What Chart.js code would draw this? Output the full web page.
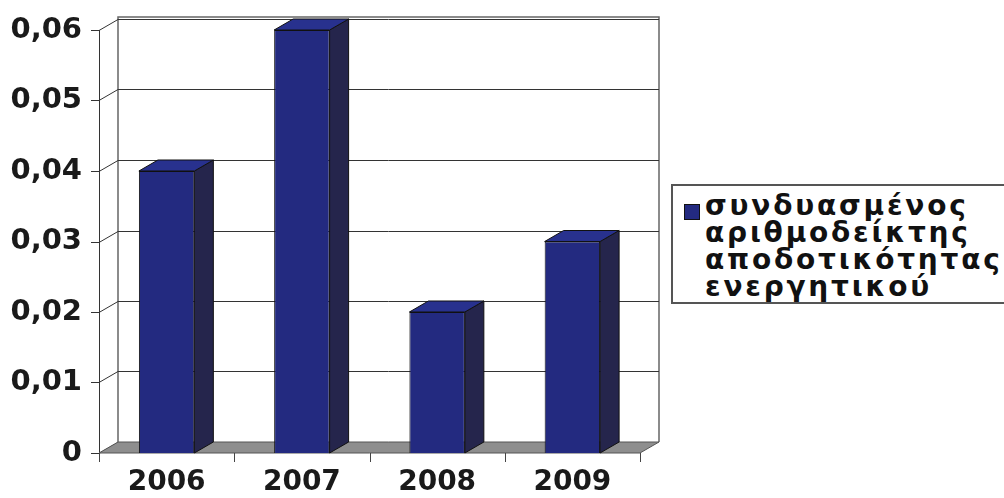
<!DOCTYPE html>
<html>
<head>
<meta charset="utf-8">
<script src="https://cdn.jsdelivr.net/npm/chart.js@4.4.1/dist/chart.umd.min.js"></script>
<style>
  html, body { margin: 0; padding: 0; background: #fff; }
  #wrap { position: relative; width: 1004px; height: 498px; overflow: hidden; }
  #legend {
    position: absolute; left: 671px; top: 184px; width: 360px; height: 120px;
    border: 2px solid #555; box-sizing: border-box; background: #fff;
  }
  #legend .sw {
    position: absolute; left: 11px; top: 18px; width: 14px; height: 14px;
    background: #232a80; border: 1px solid #111;
  }
  #legend .txt {
    position: absolute; left: 32px; top: 6px; margin: 0;
    font: bold 28px "DejaVu Sans", sans-serif; line-height: 27px;
    letter-spacing: 2.8px; color: #111; white-space: pre;
  }
</style>
</head>
<body>
<div id="wrap">
  <canvas id="myChart" width="1004" height="498"></canvas>
  <div id="legend"><div class="sw"></div><div class="txt" id="legendText"></div></div>
</div>
<script>
const years = ['2006', '2007', '2008', '2009'];
const values = [0.04, 0.06, 0.02, 0.03];
const seriesName = ['συνδυασμένος', 'αριθμοδείκτης', 'αποδοτικότητας', 'ενεργητικού'];
const yTicks = [0, 0.01, 0.02, 0.03, 0.04, 0.05, 0.06];

document.getElementById('legendText').textContent = seriesName.join('\n');

// depth of the 3d effect
const DX = 19, DY = -11;

const box3d = {
    id: 'box3d',
    beforeDatasetsDraw(chart) {
        const ctx = chart.ctx;
        const a = chart.chartArea;
        const y = chart.scales.y;
        ctx.save();
        // back wall outline
        ctx.strokeStyle = '#666';
        ctx.lineWidth = 1.5;
        ctx.beginPath();
        ctx.moveTo(a.left + DX, a.bottom + DY);
        ctx.lineTo(a.left + DX, a.top + DY - 2);
        ctx.lineTo(a.right + DX, a.top + DY - 2);
        ctx.lineTo(a.right + DX, a.bottom + DY);
        ctx.stroke();
        // grid lines on wall + side wall diagonals + ticks
        ctx.strokeStyle = '#333';
        ctx.lineWidth = 1;
        yTicks.forEach(function (v) {
            const py = Math.round(y.getPixelForValue(v)) + 0.5;
            ctx.beginPath();
            if (v > 0) {
                ctx.moveTo(a.left + DX, py + DY);
                ctx.lineTo(a.right + DX, py + DY);
            }
            ctx.moveTo(a.left - 8, py);
            ctx.lineTo(a.left, py);
            ctx.lineTo(a.left + DX, py + DY);
            ctx.stroke();
        });
        // front vertical axis
        ctx.beginPath();
        ctx.moveTo(a.left + 0.5, a.top);
        ctx.lineTo(a.left + 0.5, a.bottom);
        ctx.stroke();
        // floor
        ctx.fillStyle = '#8e8e8e';
        ctx.strokeStyle = '#555';
        ctx.beginPath();
        ctx.moveTo(a.left, a.bottom);
        ctx.lineTo(a.right, a.bottom);
        ctx.lineTo(a.right + DX, a.bottom + DY);
        ctx.lineTo(a.left + DX, a.bottom + DY);
        ctx.closePath();
        ctx.fill();
        ctx.stroke();
        // category ticks
        ctx.strokeStyle = '#444';
        for (let i = 0; i <= years.length; i++) {
            const px = Math.round(a.left + (a.right - a.left) * i / years.length) + 0.5;
            ctx.beginPath();
            ctx.moveTo(px, a.bottom);
            ctx.lineTo(px, a.bottom + 9);
            ctx.stroke();
        }
        ctx.restore();
    },
    afterDatasetsDraw(chart) {
        const ctx = chart.ctx;
        const meta = chart.getDatasetMeta(0);
        ctx.save();
        ctx.strokeStyle = '#111';
        ctx.lineWidth = 1;
        meta.data.forEach(function (bar) {
            const l = bar.x - bar.width / 2, r = bar.x + bar.width / 2;
            const t = bar.y, b = bar.base;
            // side
            ctx.fillStyle = '#25254c';
            ctx.beginPath();
            ctx.moveTo(r, t);
            ctx.lineTo(r + DX, t + DY);
            ctx.lineTo(r + DX, b + DY);
            ctx.lineTo(r, b);
            ctx.closePath();
            ctx.fill();
            ctx.stroke();
            // top
            ctx.fillStyle = '#28318e';
            ctx.beginPath();
            ctx.moveTo(l, t);
            ctx.lineTo(l + DX, t + DY);
            ctx.lineTo(r + DX, t + DY);
            ctx.lineTo(r, t);
            ctx.closePath();
            ctx.fill();
            ctx.stroke();
        });
        ctx.restore();
    }
};

(function () {
    const ctx = document.querySelector('#myChart');
    new Chart(ctx, {
        type: 'bar',
        data: {
            labels: years,
            datasets: [{
                label: seriesName.join(' '),
                data: values,
                backgroundColor: '#232a80',
                borderColor: '#111',
                borderWidth: 1,
                barPercentage: 0.41,
                categoryPercentage: 1
            }]
        },
        options: {
            responsive: false,
            animation: false,
            layout: { padding: { left: 0, right: 364, top: 30, bottom: 0 } },
            plugins: { legend: { display: false }, tooltip: { enabled: false } },
            scales: {
                x: {
                    grid: { display: false },
                    border: { display: false },
                    ticks: {
                        padding: 5,
                        color: '#1a1a1a',
                        font: { family: 'DejaVu Sans', weight: 'bold', size: 28 }
                    },
                    afterFit(scale) { scale.height = 45; }
                },
                y: {
                    min: 0,
                    max: 0.06,
                    grid: { display: false },
                    border: { display: false },
                    ticks: {
                        stepSize: 0.01,
                        padding: 9,
                        color: '#1a1a1a',
                        font: { family: 'DejaVu Sans', weight: 'bold', size: 29 },
                        callback(v) {
                            return v === 0 ? '0' : v.toFixed(2).replace('.', ',');
                        }
                    },
                    afterFit(scale) { scale.width = 99; }
                }
            }
        },
        plugins: [box3d]
    });
})();
</script>
</body>
</html>
